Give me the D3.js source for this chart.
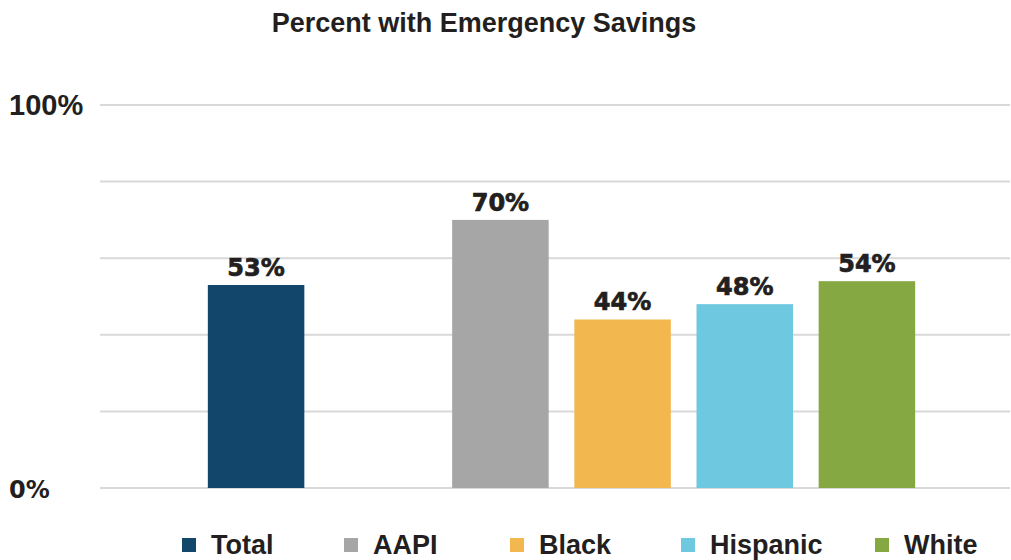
<!DOCTYPE html>
<html>
<head>
<meta charset="utf-8">
<script src="https://cdn.jsdelivr.net/npm/d3@7"></script>
<style>
	body { margin: 0; background: #fff; }
	svg { display: block; }
</style>
</head>
<body>
<div id="chart"></div>
<script>
// data
const categories = ["Total", "AAPI", "Black", "Hispanic", "White"];
const values = [53, 70, 44, 48, 54];
const colors = ["#12476b", "#a6a6a6", "#f2b84f", "#6ec8e0", "#86a843"];
const yTicks = [0, 20, 40, 60, 80, 100];
const yLabels = { 0: "0%", 100: "100%" };

const width = 1011, height = 560;
const condensed = "'Liberation Sans', sans-serif";
const wide = "'DejaVu Sans', sans-serif";

const svg = d3.select("#chart")
	.append("svg")
	.attr("width", width)
	.attr("height", height);

// slot order has an empty gap after Total
const slots = ["Total", "_gap", "AAPI", "Black", "Hispanic", "White"];

const x = d3.scaleBand()
	.domain(slots)
	.range([195, 928])
	.paddingInner(0.21)
	.paddingOuter(0.105);

const y = d3.scaleLinear()
	.domain([0, 100])
	.range([488, 105]);

// title
svg.append("text")
	.attr("x", 484)
	.attr("y", 32)
	.attr("text-anchor", "middle")
	.style("font-family", condensed)
	.style("font-weight", "bold")
	.style("font-size", "27px")
	.style("fill", "#231f20")
	.text("Percent with Emergency Savings");

// gridlines
svg.append("g")
	.selectAll("line")
	.data(yTicks)
	.join("line")
	.attr("x1", 100)
	.attr("x2", 1010)
	.attr("y1", d => y(d))
	.attr("y2", d => y(d))
	.attr("stroke", "#d9d9d9")
	.attr("stroke-width", 2);

// y labels
svg.append("g")
	.selectAll("text")
	.data(yTicks.filter(d => yLabels[d]))
	.join("text")
	.attr("x", 9)
	.attr("y", d => y(d) + 10)
	.style("font-family", d => d === 100 ? condensed : wide)
	.style("font-weight", "bold")
	.style("font-size", d => d === 100 ? "29px" : "24px")
	.style("fill", "#231f20")
	.text(d => yLabels[d]);

// bars
svg.append("g")
	.selectAll("rect")
	.data(categories)
	.join("rect")
	.attr("x", d => x(d))
	.attr("y", (d, i) => y(values[i]))
	.attr("width", x.bandwidth())
	.attr("height", (d, i) => y(0) - y(values[i]))
	.attr("fill", (d, i) => colors[i]);

// value labels
svg.append("g")
	.selectAll("text")
	.data(categories)
	.join("text")
	.attr("x", d => x(d) + x.bandwidth() / 2)
	.attr("y", (d, i) => y(values[i]) - 9)
	.attr("text-anchor", "middle")
	.style("font-family", wide)
	.style("font-weight", "bold")
	.style("font-size", "24px")
	.style("fill", "#231f20")
	.style("stroke", "#231f20")
	.style("stroke-width", 0.7)
	.text((d, i) => values[i] + "%");

// legend, left edge of each entry
const legendX = [182, 344, 510, 681, 875];
const items = svg.append("g")
	.selectAll("g")
	.data(categories)
	.join("g")
	.attr("transform", (d, i) => `translate(${legendX[i]},0)`);

items.append("rect")
	.attr("width", 14)
	.attr("height", 14)
	.attr("y", 538)
	.attr("fill", (d, i) => colors[i]);

items.append("text")
	.attr("x", 29)
	.attr("y", 554)
	.style("font-family", condensed)
	.style("font-weight", "bold")
	.style("font-size", "27px")
	.style("fill", "#231f20")
	.text(d => d);
</script>
</body>
</html>
